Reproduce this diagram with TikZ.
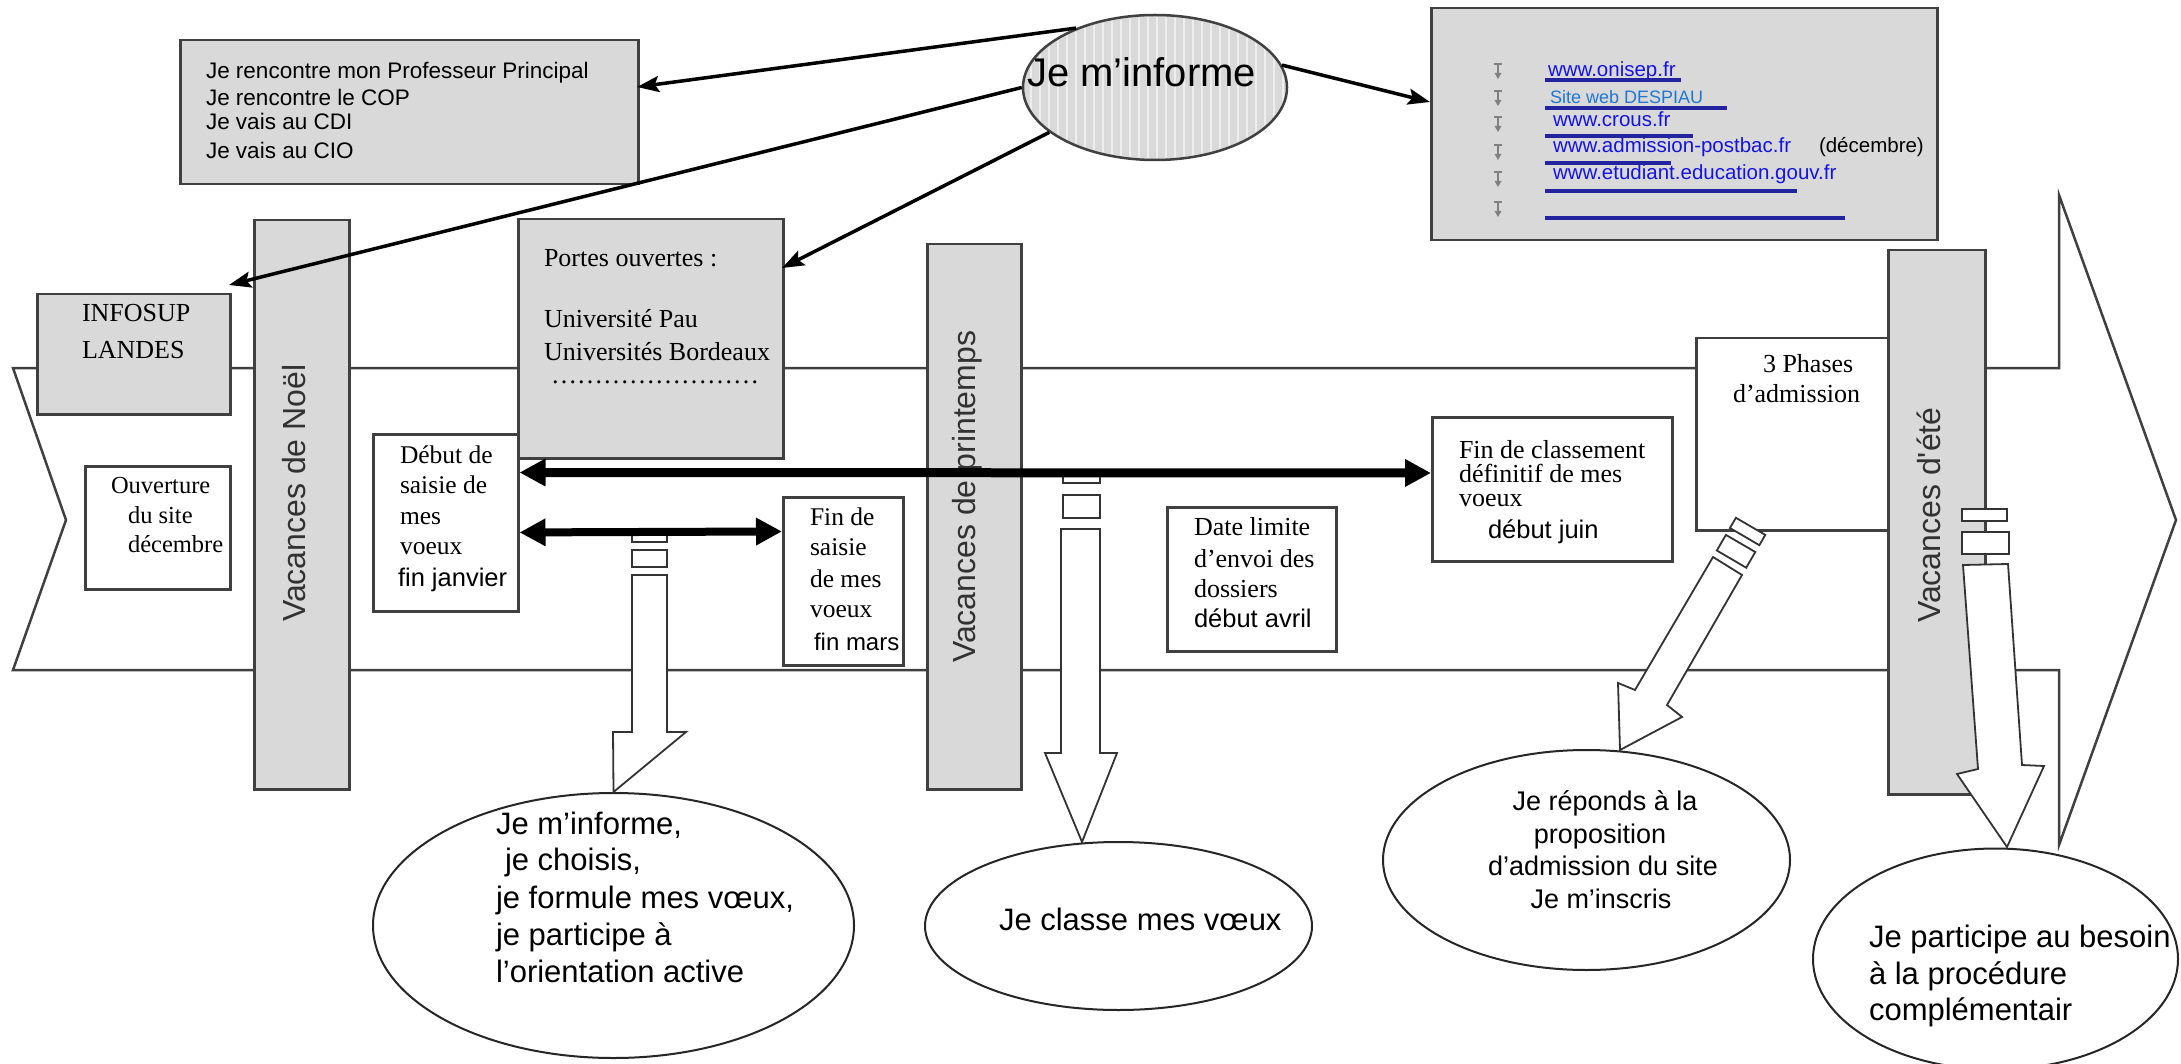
\documentclass[tikz,border=0pt]{standalone}
\usepackage{fontspec}
\setmainfont{Liberation Serif}
\newfontfamily\arial{Liberation Sans}
\usetikzlibrary{arrows.meta,shapes.geometric,calc}
\definecolor{boxgray}{RGB}{217,217,217}
\definecolor{edge}{RGB}{64,64,64}
\definecolor{urlblue}{RGB}{20,20,225}
\definecolor{ulblue}{RGB}{35,35,160}
\definecolor{siteblue}{RGB}{30,120,210}
\definecolor{bartext}{RGB}{50,50,50}
\newcommand\fsz[1]{\fontsize{#1}{#1}\selectfont}
\begin{document}
\begin{tikzpicture}[x=1pt,y=-1pt,
  graybox/.style={draw=edge,line width=2.5pt,fill=boxgray,anchor=north west,inner sep=0pt},
  whitebox/.style={draw=edge,line width=2.5pt,fill=white,anchor=north west,inner sep=0pt},
  ln/.style={anchor=base west,inner sep=0pt,outer sep=0pt},
  tnr/.style={ln,font=\fsz{26}},
  ars/.style={ln,font=\arial\fsz{25.5}},
  els/.style={ln,font=\arial\fsz{31}},
  url/.style={ln,font=\arial\fsz{20.5},text=urlblue},
  vbar/.style={anchor=base west,rotate=90,inner sep=0pt,font=\arial\fsz{32},text=bartext},
  bigell/.style={ellipse,draw=black!85,line width=2pt,fill=white,inner sep=0pt},
  info/.style={line width=3.5pt,-{Stealth[length=22pt,width=16pt,inset=4pt]}},
  hollow/.style={draw=black!80,line width=1.8pt,fill=white,line join=miter},
  fat/.style={line width=#1,{Triangle[length=26pt,width=26pt]}-{Triangle[length=26pt,width=26pt]}},
  ul/.style={draw=ulblue,line width=4pt},
]
\useasboundingbox (0,0) rectangle (2181,1064);
\fill[white] (0,0) rectangle (2181,1064);

% timeline band
\draw[edge,line width=2.5pt,fill=white,line join=miter]
  (13,368) -- (2059,368) -- (2059,195) -- (2176,520) -- (2059,845) -- (2059,670) -- (13,670) -- (66,520) -- cycle;

% vacation bars
\node[graybox,minimum width=95pt,minimum height=569pt] (noel) at (253,219) {};
\node[graybox,minimum width=94pt,minimum height=545pt] (printemps) at (926,243) {};
\node[graybox,minimum width=97pt,minimum height=544pt] (ete) at (1887,249) {};
\node[vbar] (tnoel) at (305,622) {Vacances de Noël};
\node[vbar] (tprint) at (975,663) {Vacances de printemps};
\node[vbar] (tete) at (1940,623) {Vacances d'été};

% gray boxes
\node[graybox,minimum width=458pt,minimum height=144pt] (boxA) at (179,39) {};
\node[graybox,minimum width=506pt,minimum height=232pt] (boxU) at (1430,7) {};
\node[graybox,minimum width=193pt,minimum height=120pt] (infosup) at (36,293) {};
\node[graybox,minimum width=265pt,minimum height=239pt] (portes) at (517,218) {};

% white boxes
\node[whitebox,minimum width=145pt,minimum height=123pt] (ouv) at (84,465) {};
\node[whitebox,minimum width=145pt,minimum height=177pt] (debut) at (372,433) {};
\node[whitebox,minimum width=120pt,minimum height=168pt] (finsai) at (782,496) {};
\node[whitebox,minimum width=169pt,minimum height=144pt] (datelim) at (1166,506) {};
\node[whitebox,minimum width=240pt,minimum height=144pt] (fincl) at (1431,416) {};
\node[whitebox,minimum width=192pt,minimum height=192pt] (phases) at (1695,337) {};

% texts top-left box
\node[ln,font=\arial\fsz{22.5}] (a1) at (206,79) {Je rencontre mon Professeur Principal};
\node[ln,font=\arial\fsz{22.5}] (a2) at (206,106) {Je rencontre le COP};
\node[ln,font=\arial\fsz{22.5}] (a3) at (206,130) {Je vais au CDI};
\node[ln,font=\arial\fsz{22.5}] (a4) at (206,159) {Je vais au CIO};

% url box
\foreach \yy in {72,99,125,153,180,210}{
  \draw[gray,line width=1.3pt] (1494,\yy-8) -- (1502,\yy-8);
  \draw[gray,line width=1.3pt] (1498,\yy-8) -- (1498,\yy+2);
  \fill[gray] (1494.5,\yy+1) -- (1501.5,\yy+1) -- (1498,\yy+7) -- cycle;
}
\node[url] (u1) at (1548,77) {www.onisep.fr};
\node[ln,font=\arial\fsz{18},text=siteblue] (u2) at (1550,104) {Site web DESPIAU};
\node[url] (u3) at (1553,127) {www.crous.fr};
\node[url] (u4) at (1553,153) {www.admission-postbac.fr};
\node[ln,font=\arial\fsz{20.5}] (u4b) at (1819,153) {(décembre)};
\node[url] (u5) at (1553,180) {www.etudiant.education.gouv.fr};
\draw[ul] (1545,80) -- (1681,80);
\draw[ul] (1545,108) -- (1727,108);
\draw[ul] (1545,136) -- (1693,136);
\draw[ul] (1545,163) -- (1671,163);
\draw[ul] (1545,191) -- (1797,191);
\draw[ul] (1545,218) -- (1845,218);

% infosup / portes
\node[tnr] (i1) at (82,322) {INFOSUP};
\node[tnr] (i2) at (82,359) {LANDES};
\node[tnr] (p1) at (544,267) {Portes ouvertes :};
\node[tnr] (p2) at (544,328) {Université Pau};
\node[tnr] (p3) at (544,360) {Universités Bordeaux};
\node[tnr] (p4) at (551,383) {……………………};

% white box texts
\node[ln,font=\fsz{24.5}] (o1) at (111,493) {Ouverture};
\node[ln,font=\fsz{24.5}] (o2) at (128,523) {du site};
\node[ln,font=\fsz{24.5}] (o3) at (128,552) {décembre};

\node[ln,font=\fsz{25.5}] (d1) at (400,463) {Début de};
\node[ln,font=\fsz{25.5}] (d2) at (400,493) {saisie de};
\node[ln,font=\fsz{25.5}] (d3) at (400,524) {mes};
\node[ln,font=\fsz{25.5}] (d4) at (400,554) {voeux};
\node[ars] (d5) at (398,586) {fin janvier};

\node[ln,font=\fsz{25.5}] (f1) at (810,525) {Fin de};
\node[ln,font=\fsz{25.5}] (f2) at (810,555) {saisie};
\node[ln,font=\fsz{25.5}] (f3) at (810,587) {de mes};
\node[ln,font=\fsz{25.5}] (f4) at (810,617) {voeux};
\node[ln,font=\arial\fsz{24}] (f5) at (814,650) {fin mars};

\node[tnr] (l1) at (1194,535) {Date limite};
\node[tnr] (l2) at (1194,567) {d’envoi des};
\node[tnr] (l3) at (1194,597) {dossiers};
\node[ars] (l4) at (1194,627) {début avril};

\node[tnr] (c1) at (1459,458) {Fin de classement};
\node[tnr] (c2) at (1459,482) {définitif de mes};
\node[tnr] (c3) at (1459,506) {voeux};
\node[ars] (c4) at (1488,538) {début juin};

\node[tnr] (h1) at (1763,372) {3 Phases};
\node[tnr] (h2) at (1733,402) {d’admission};

% hollow arrow marks (under the black arrows)
\draw[hollow] (632,532) rectangle (667,542);
\draw[hollow] (632,550) rectangle (667,567);
\draw[hollow] (1063,472) rectangle (1100,483);
\draw[hollow] (1063,495) rectangle (1100,518);

% thick double arrows
\draw[fat=9pt] ($(debut.north east)!0.22!(debut.south east)$) -- ($(fincl.north west)!0.389!(fincl.south west)$);
\draw[fat=8pt] ($(debut.north east)!0.554!(debut.south east)$) -- ($(finsai.north west)!0.208!(finsai.south west)$);

% ellipses bottom
\node[bigell,minimum width=481pt,minimum height=265pt] (e1) at (613.5,925.5) {};
\node[bigell,minimum width=387pt,minimum height=168pt] (e2) at (1118.5,926) {};
\node[bigell,minimum width=407pt,minimum height=220pt] (e3) at (1586.5,860) {};
\node[bigell,minimum width=365pt,minimum height=221pt] (e4) at (1995.5,959) {};

% hollow block arrows
\draw[hollow] (632,575) -- (632,732) -- (613,732) -- (e1.north) -- (686,732) -- (667,732) -- (667,575) -- cycle;
\draw[hollow] (1061,529) -- (1061,753) -- (1045,753) -- (1082,842) -- (1117,753) -- (1100,753) -- (1100,529) -- cycle;
\draw[hollow] (1729.9,528.0) -- (1759.3,545.2) -- (1765.3,534.9) -- (1735.9,517.8) -- cycle;
\draw[hollow] (1716.8,550.5) -- (1746.2,567.7) -- (1755.3,552.0) -- (1725.9,534.9) -- cycle;
\draw[hollow] (1713,557) -- (1635,690) -- (1618,683) -- (1620,750) -- (1682,717) -- (1667,705) -- (1742,575) -- cycle;
\draw[hollow] (1962,509) rectangle (2007,521);
\draw[hollow] (1962,532) rectangle (2009,554);
\draw[hollow] (1963,565) -- (1978,769) -- (1957,774) -- (2007,847) -- (2044,766) -- (2022,765) -- (2008,564) -- cycle;

% ellipse texts
\node[els] (t11) at (496,834) {Je m’informe,};
\node[els] (t12) at (505,870) {je choisis,};
\node[els] (t13) at (496,908) {je formule mes vœux,};
\node[els] (t14) at (496,945) {je participe à};
\node[els] (t15) at (496,982) {l’orientation active};
\node[els] (t21) at (999,930) {Je classe mes vœux};
\node[anchor=base,inner sep=0pt,font=\arial\fsz{27}] (t31) at (1605,810) {Je réponds à la};
\node[anchor=base,inner sep=0pt,font=\arial\fsz{27}] (t32) at (1600,843) {proposition};
\node[anchor=base,inner sep=0pt,font=\arial\fsz{27}] (t33) at (1603,875) {d’admission du site};
\node[anchor=base,inner sep=0pt,font=\arial\fsz{27}] (t34) at (1601,908) {Je m’inscris};
\node[els] (t41) at (1869,947) {Je participe au besoin};
\node[els] (t42) at (1869,984) {à la procédure};
\node[els] (t43) at (1869,1020) {complémentair};

% Je m'informe ellipse
\node[ellipse,draw=edge,line width=2.5pt,fill=boxgray,inner sep=0pt,minimum width=264pt,minimum height=145pt] (inf) at (1155,87.5) {};
\begin{scope}
  \clip (1155,87.5) ellipse [x radius=130pt, y radius=70.5pt];
  \foreach \i in {0,...,29} \draw[white!55!boxgray,line width=1.6pt] (1022+\i*9,10) -- (1022+\i*9,170);
\end{scope}
\node[ln,font=\arial\fsz{40}] (inftxt) at (1027,87) {Je m’informe};

% information arrows
\coordinate (pA) at (637,87);
\coordinate (pB) at (229,285);
\coordinate (pC) at (782,268);
\coordinate (pD) at (1430,102);
\draw[info] (inf.143.8) -- (pA);
\draw[info] (inf.180.7) -- (pB);
\draw[info] (inf.203.7) -- (pC);
\draw[info] (inf.10.6) -- (pD);
\end{tikzpicture}
\end{document}
